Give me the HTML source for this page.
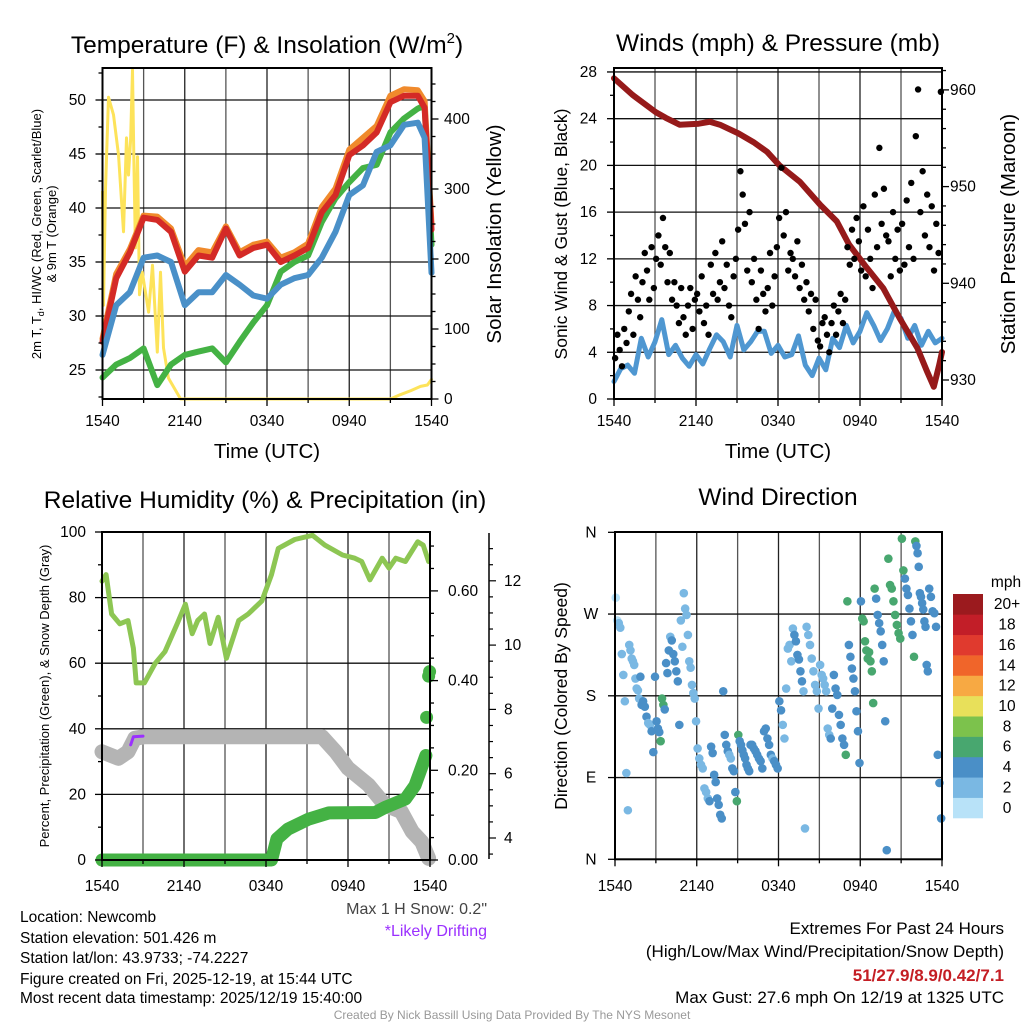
<!DOCTYPE html>
<html><head><meta charset="utf-8"><style>
html,body{margin:0;padding:0;background:#fff}
svg{display:block;font-family:"Liberation Sans",Arial,sans-serif}
</style></head><body>
<svg id="c" width="1024" height="1024" viewBox="0 0 1024 1024" xmlns="http://www.w3.org/2000/svg"></svg>
<script>
// ---------- DATA ----------
const xTickLabels = ["1540","2140","0340","0940","1540"];
const tempHours = [0,1,2,3,4,5,6,7,8,9,10,11,12,13,14,15,16,17,18,19,20,21,22,23,23.5,24];
const tempRed = [27.6,33.5,35.9,39.1,38.9,37.8,34.1,35.6,35.4,38.1,35.6,36.3,36.6,35.0,35.6,36.3,39.6,41.2,44.9,45.8,47.0,49.8,50.4,50.4,49.3,38.0];
const tempOrange = [27.9,33.9,36.2,39.3,39.2,38.1,34.6,36.1,35.9,38.3,35.9,36.6,36.9,35.4,35.9,36.7,40.1,41.8,45.4,46.5,47.6,50.4,51.0,50.9,49.9,38.5];
const tempBlue = [26.4,31.0,32.2,35.4,35.6,35.0,31.0,32.2,32.2,33.8,32.9,31.9,31.6,32.9,33.5,33.8,35.4,37.8,41.2,42.1,45.2,45.8,47.7,47.9,46.5,34.0];
const tempGreen = [24.3,25.5,26.1,27.0,23.6,25.5,26.4,26.7,27.0,25.7,27.6,29.4,31.0,34.1,35.0,35.6,38.7,40.9,42.4,43.7,44.0,47.0,48.3,49.2,49.5,36.6];
const tempTicks = [25,30,35,40,45,50];
const insHours = [0,0.07,0.22,0.44,0.8,1.17,1.53,1.75,1.9,2.05,2.19,2.3,2.4,2.55,2.7,2.9,3.36,3.65,4.0,4.23,4.45,4.81,5.7,21.0,21.7,22.5,23.2,23.7,24];
const insVals = [296,134,300,431,406,349,239,373,320,370,470,330,216,346,149,181,124,191,67,181,73,30,0,0,6,12,18,20,28];
const insTicks = [0,100,200,300,400];

const windVals = [1.5,2.6,2.9,2.2,5.2,3.6,4.9,6.8,3.8,4.6,3.5,2.8,3.8,3.0,4.3,5.5,4.9,3.6,6.3,4.2,4.9,5.8,5.8,3.9,4.6,3.6,3.8,5.4,2.9,2.0,3.5,2.5,5.2,4.4,6.3,4.8,5.8,7.4,6.3,5.0,6.0,7.5,6.9,5.2,6.3,4.6,5.8,4.8,5.2];
const gustVals = [3.5,5.5,4.2,2.8,6.0,4.8, 7.5,9.0,5.5,10.5,8.5,7.0, 10.0,12.5,11.0,8.5,13.0,9.5, 12.0,14.0,11.5,15.5,13.0,10.0,
 12.5,8.5,10.0,8.0,6.5,9.5, 7.0,5.5,8.0,9.5,6.0,8.5, 9.0,7.5,10.5,6.5,8.0,5.5, 11.5,9.0,12.5,8.5,10.0,13.5,
 9.5,11.5,8.0,7.0,10.5,12.0, 14.5,19.5,17.5,15.0,11.0,16.0, 10.0,12.0,8.5,6.0,11.0,9.0, 7.5,9.5,12.5,8.0,10.5,13.0,
 15.5,19.8,14.0,16.0,11.0,12.5, 12.0,10.5,13.5,9.5,11.5,8.5, 10.0,7.5,9.0,6.0,8.5,5.0, 4.5,6.5,7.0,5.5,4.0,6.5,
 8.0,5.5,7.5,9.0,6.5,8.5, 13.0,11.5,14.5,12.0,15.5,13.5, 11.0,16.5,10.5,14.5,12.0,9.5, 17.5,13.0,21.5,15.0,18.0,14.0,
 13.5,10.5,16.0,12.0,14.5,11.0, 15.0,11.5,17.0,13.0,18.5,12.0, 22.5,26.5,16.0,19.5,14.0,17.5, 13.0,16.5,11.0,15.0,12.5,26.3];
const presHours = [0,1.34,3.05,3.8,4.8,6.2,7.0,7.75,9.1,10.2,11.2,12.1,13.6,15.1,16.3,17.2,18.5,19.7,20.9,22.2,22.9,23.4,23.8,24];
const presVals = [961.2,959.5,957.7,957.1,956.4,956.5,956.7,956.4,955.5,954.6,953.6,952.2,950.5,948.1,946.4,944.0,941.6,939.5,936.4,933.3,930.9,929.3,931.6,932.9];
const windTicks = [0,4,8,12,16,20,24,28];
const presTicks = [930,940,950,960];

const rhHours = [0,0.3,0.7,1.3,1.9,2.3,2.5,3.1,3.9,4.6,5.5,6.1,6.6,7.0,7.5,7.9,8.5,9.1,10.0,10.7,11.7,12.4,12.9,14.1,15.4,16.3,17.6,18.5,19.0,19.6,20.5,21.0,21.5,22.2,23.1,23.5,23.9];
const rhVals = [85,87,75,72,73,64.5,54,54,60,63.5,72,78,69,73,75,66,74,61.5,73,75,79,87,95,97.7,99,96,93,92,91,85.4,92,89,92,91,97,96,91];
const precipHours = [0,12.4,12.8,13.6,15.1,16.6,20,20.7,22.2,22.9,23.7];
const precipVals = [0,0,0.047,0.069,0.091,0.105,0.106,0.117,0.136,0.166,0.233];
const precipDotHours = [23.75,23.9,23.97];
const precipDotVals = [0.318,0.41,0.42];
const snowHours = [0,1.2,1.9,2.4,3.1,16.1,17.1,18,19.5,20.7,21.9,22.7,23.4,23.9];
const snowVals = [6.68,6.48,6.68,7.1,7.15,7.15,6.68,6.17,5.65,5.03,4.82,4.2,3.88,3.37];
const driftHours = [2.1,2.3,3.0];
const driftVals = [6.9,7.15,7.17];
const rhTicks = [0,20,40,60,80,100];
const precipTicks = ["0.00","0.20","0.40","0.60"];
const snowTicks = [4,6,8,10,12];

const dirByHour = [
 [288,263,260,255,226,203,174,95,54],
 [236,230,221,218,214,199,188,186,177,201,170],
 [174,168,157,150,148,141,118,201],
 [152,144,140,130,177,170,165,216,205,230],
 [245,241,226,218,207,196,148,263,234],
 [293,276,269,247,218,211,192,183,177,152],
 [122,111,104,100,78,74,67,64],
 [124,117,93,85,67,60,49,45,185],
 [137,126,119,115,111,100,97,74,64],
 [137,130,126,120,115,111,104,100,97,126],
 [126,122,119,115,111,108,100,141],
 [144,133,126,115,111,108,104,100],
 [174,164,148,133,188,232,236,218],
 [254,247,240,225,220,207,196,185,34],
 [256,247,236,221,207,192,185,166],
 [214,203,199,192,185,144,137,133,166],
 [203,188,181,159,148,133,126,115],
 [284,236,223,210,199,185,163,141,106],
 [284,265,262,240,230,221,228,218,207,172],
 [298,287,269,260,251,236,218,152,10],
 [331,302,298,284,269,258,249,243],
 [353,318,309,298,291,276,262,247,223],
 [350,345,337,322,293,289,282,275,262,256,214,207],
 [298,289,273,271,256,115,84,45]
];
const dirTickLabels = ["N","E","S","W","N"];
const cbLabels = ["0","2","4","6","8","10","12","14","16","18","20+"];
const cbColors = ["#b8e2f8","#7ab8e3","#4a8fc7","#48a76f","#7cc24c","#e8e05a","#f7a943","#f0652a","#e03a2e","#c21e28","#9b1a1e"];

// ---------- HELPERS ----------
const NS="http://www.w3.org/2000/svg";
const svg=document.getElementById('c');
const TICK=15.5, TITLE=24.5, AXT=20.5;
function mk(tag,attrs,parent){const e=document.createElementNS(NS,tag);for(const k in attrs)e.setAttribute(k,attrs[k]);(parent||svg).appendChild(e);return e;}
function txt(s,x,y,size,anchor,parent,extra){const t=mk('text',Object.assign({x:x,y:y,'font-size':size,'text-anchor':anchor||'middle',fill:'#000'},extra||{}),parent);t.textContent=s;return t;}
function line(x1,y1,x2,y2,stroke,w,parent){return mk('line',{x1:x1,y1:y1,x2:x2,y2:y2,stroke:stroke,'stroke-width':w},parent);}
function poly(xs,ys,sx,sy,stroke,w,parent){let d='';for(let i=0;i<xs.length;i++)d+=(i?' ':'')+sx(xs[i]).toFixed(1)+','+sy(ys[i]).toFixed(1);return mk('polyline',{points:d,fill:'none',stroke:stroke,'stroke-width':w,'stroke-linejoin':'round','stroke-linecap':'round'},parent);}
function interp(hs,vs,h){if(h<=hs[0])return vs[0];for(let i=1;i<hs.length;i++){if(h<=hs[i]){const f=(h-hs[i-1])/(hs[i]-hs[i-1]);return vs[i-1]+f*(vs[i]-vs[i-1]);}}return vs[vs.length-1];}

function frame(g,x0,x1,y0,y1,yGrid,name){
  for(let k=1;k<8;k++){const x=x0+(x1-x0)*k/8;const l=line(x,y0,x,y1,k%2?'#555':'#222',1.3,g);}
  yGrid.forEach(y=>{const l=line(x0,y,x1,y,'#111',1.3,g);});
}
function border(g,x0,x1,y0,y1){
  const r=mk('rect',{x:x0,y:y0,width:x1-x0,height:y1-y0,fill:'none',stroke:'#000','stroke-width':2},g);
  
}
function xAxis(g,x0,x1,y1,labY){
  for(let k=0;k<=8;k++){const x=x0+(x1-x0)*k/8;line(x,y1,x,y1+(k%2?4:7),'#000',1.3,g);}
  xTickLabels.forEach((s,i)=>{const t=txt(s,x0+(x1-x0)*i/4,labY,TICK,'middle',g);});
}

// ---------- PANEL 1 ----------
(function(){
  const g=mk('g',{});
  const x0=102.5,x1=431.5,y0=68,y1=399;
  const X=h=>x0+(x1-x0)*h/24, YT=v=>370-(v-25)*10.8, YI=v=>399-v*0.7;
  frame(g,x0,x1,y0,y1,tempTicks.map(YT),'temp');
  const ins=poly(insHours,insVals,X,v=>Math.max(y0+1,YI(v)),'#fde35a',3,g);
  const lg=poly(tempHours,tempGreen,X,YT,'#44b244',6,g);
  const lo=poly(tempHours,tempOrange,X,YT,'#f08a2c',6,g);
  const lr=poly(tempHours,tempRed,X,YT,'#d42a26',6,g);
  const lb=poly(tempHours,tempBlue,X,YT,'#4a90c8',6,g);
  border(g,x0,x1,y0,y1);
  for(let v=22.5;v<=52.5;v+=2.5){const y=YT(v);if(y<y0||y>y1)continue;const maj=v%5===0;line(x0-(maj?7:4),y,x0,y,'#000',1.3,g);}
  tempTicks.forEach(v=>{const t=txt(String(v),86,YT(v)+5,TICK,'end',g);});
  for(let v=0;v<=475;v+=25){const y=YI(v);if(y<y0)continue;line(x1,y,x1+(v%100===0?7:4),y,'#000',1.3,g);}
  insTicks.forEach(v=>{const t=txt(String(v),444,YI(v)+5,TICK,'start',g);});
  xAxis(g,x0,x1,y1,426);
  const tt=txt('',267,53,TITLE,'middle',g);
  tt.innerHTML='Temperature (F) &amp; Insolation (W/m<tspan font-size="15" dy="-10">2</tspan><tspan dy="10">)</tspan>';
  const xl=txt('Time (UTC)',267,458,AXT,'middle',g);
  const yl=mk('text',{transform:'translate(41,234) rotate(-90)','font-size':13,'text-anchor':'middle'},g);
  
  yl.innerHTML='2m T, T<tspan font-size="9" dy="3">d</tspan><tspan dy="-3">, HI/WC (Red, Green, Scarlet/Blue)</tspan>';
  const yl2=txt('& 9m T (Orange)',0,0,13,'middle',g,{transform:'translate(56,234) rotate(-90)'});
  const yr=txt('Solar Insolation (Yellow)',0,0,AXT,'middle',g,{transform:'translate(501,234) rotate(-90)'});
})();

// ---------- PANEL 2 ----------
(function(){
  const g=mk('g',{});
  const x0=614,x1=942,y0=68,y1=399;
  const X=h=>x0+(x1-x0)*h/24, YW=v=>399-v*11.68, YP=p=>380-(p-930)*9.67;
  frame(g,x0,x1,y0,y1,windTicks.slice(1).map(YW),'wind');
  const wl=poly(windVals.map((v,i)=>i*24/(windVals.length-1)),windVals,X,YW,'#4f97d1',5,g);
  const pl=poly(presHours,presVals,X,YP,'#961a1a',6,g);
  gustVals.forEach((v,i)=>{const c=mk('circle',{cx:X(i/6+1/12),cy:YW(v),r:3.2,fill:'#000'},g);});
  border(g,x0,x1,y0,y1);
  for(let v=0;v<=28;v+=2){line(x0-(v%4?4:7),YW(v),x0,YW(v),'#000',1.3,g);}
  windTicks.forEach(v=>{const t=txt(String(v),597,YW(v)+5,TICK,'end',g);});
  for(let p=928;p<=962;p+=2){const y=YP(p);if(y<y0||y>y1)continue;line(x1,y,x1+(p%10?4:7),y,'#000',1.3,g);}
  presTicks.forEach(v=>{const t=txt(String(v),950,YP(v)+5,TICK,'start',g);});
  xAxis(g,x0,x1,y1,426);
  const tt=txt('Winds (mph) & Pressure (mb)',778,51,TITLE,'middle',g);
  const xl=txt('Time (UTC)',778,458,AXT,'middle',g);
  const yl=txt('Sonic Wind & Gust (Blue, Black)',0,0,17.5,'middle',g,{transform:'translate(567,234) rotate(-90)'});
  const yr=txt('Station Pressure (Maroon)',0,0,AXT,'middle',g,{transform:'translate(1015,234) rotate(-90)'});
})();

// ---------- PANEL 3 ----------
(function(){
  const g=mk('g',{});
  const x0=102,x1=430,y0=532,y1=860;
  const X=h=>x0+(x1-x0)*h/24, YR=v=>860-v*3.28, YPr=p=>860-p*448.5, YS=s=>838-(s-4)*32.15;
  frame(g,x0,x1,y0,y1,rhTicks.slice(1).map(YR),'rh');
  const rl=poly(rhHours,rhVals,X,YR,'#8dc653',5,g);
  const sl=poly(snowHours,snowVals,X,YS,'#b4b4b4',15,g);
  const dl=poly(driftHours,driftVals,X,YS,'#9b30ff',3,g);
  const pl=poly(precipHours,precipVals,X,YPr,'#44b244',13,g);
  precipDotHours.forEach((h,i)=>{const c=mk('circle',{cx:X(h),cy:YPr(precipDotVals[i]),r:6.5,fill:'#44b244'},g);});
  border(g,x0,x1,y0,y1);
  for(let v=0;v<=100;v+=10){line(x0-(v%20?4:7),YR(v),x0,YR(v),'#000',1.3,g);}
  rhTicks.forEach(v=>{const t=txt(String(v),86,YR(v)+5,TICK,'end',g);});
  for(let k=0;k<=14;k++){const p=k*0.05;const y=YPr(p);if(y<y0)continue;line(x1,y,x1+(k%4?4:8),y,'#000',1.3,g);}
  precipTicks.forEach(s=>{const t=txt(s,448,YPr(parseFloat(s))+5,TICK,'start',g);});
  const ax=line(489,533,489,859,'#000',1.5,g);
  for(let s=3.5;s<=13.5;s+=0.5){const y=YS(s);if(y<533||y>859)continue;line(489,y,489+(s%2===0?7:4),y,'#000',1.2,g);}
  snowTicks.forEach(v=>{const t=txt(String(v),504,YS(v)+5,TICK,'start',g);});
  xAxis(g,x0,x1,y1,891);
  const tt=txt('Relative Humidity (%) & Precipitation (in)',265,508,TITLE,'middle',g);
  const yl=txt('Percent, Precipitation (Green), & Snow Depth (Gray)',0,0,13,'middle',g,{transform:'translate(49,696) rotate(-90)'});
  const n1=txt('Max 1 H Snow: 0.2"',487,914,16,'end',g,{fill:'#444'});
  const n2=txt('*Likely Drifting',487,936,16,'end',g,{fill:'#9b30ff'});
})();

// ---------- PANEL 4 ----------
(function(){
  const g=mk('g',{});
  const x0=615,x1=942,y0=532,y1=859.3;
  const X=h=>x0+(x1-x0)*h/24, YD=d=>859.3-d*0.9083;
  frame(g,x0,x1,y0,y1,[90,180,270,360].map(YD),'dir');
  const wh=windVals.map((v,i)=>i*24/(windVals.length-1));
  dirByHour.forEach((arr,h)=>{arr.forEach((d,i)=>{const t=h+(i+0.5)/arr.length;const sp=interp(wh,windVals,t);const bin=Math.min(10,Math.max(0,Math.floor(sp/2)));
    const c=mk('circle',{cx:X(t),cy:YD(d),r:4.3,fill:cbColors[bin]},g);});});
  border(g,x0,x1,y0,y1);
  for(let k=0;k<=4;k++){line(x0-7,YD(k*90),x0,YD(k*90),'#000',1.3,g);}
  dirTickLabels.forEach((s,i)=>{const t=txt(s,591,YD(i*90)+5,TICK,'middle',g);});
  xAxis(g,x0,x1,y1,891);
  const tt=txt('Wind Direction',778,505,TITLE,'middle',g);
  const yl=txt('Direction (Colored By Speed)',0,0,17.5,'middle',g,{transform:'translate(567,696) rotate(-90)'});
  const cb=mk('g',{},g);
  const segH=(818-594)/cbColors.length;
  cbColors.forEach((col,i)=>{const y=818-(i+1)*segH;const r=mk('rect',{x:953,y:y,width:30,height:segH+0.3,fill:col},cb);
    const t=txt(cbLabels[i],1007,y+segH/2+5,TICK,'middle',cb);});
  const m=txt('mph',1006,587,TICK,'middle',cb);
})();

// ---------- FOOTER ----------
(function(){
  const g=mk('g',{});
  const lines=['Location: Newcomb','Station elevation: 501.426 m','Station lat/lon: 43.9733; -74.2227','Figure created on Fri, 2025-12-19, at 15:44 UTC','Most recent data timestamp: 2025/12/19 15:40:00'];
  const ys=[922,943,963,984,1003];
  lines.forEach((s,i)=>{const t=txt(s,20,ys[i],15.5,'start',g);});
  const e1=txt('Extremes For Past 24 Hours',1004,934,17,'end',g);
  const e2=txt('(High/Low/Max Wind/Precipitation/Snow Depth)',1004,957,17,'end',g);
  const e3=txt('51/27.9/8.9/0.42/7.1',1004,981,17,'end',g,{fill:'#c41e24','font-weight':'bold'});
  const e4=txt('Max Gust: 27.6 mph On 12/19 at 1325 UTC',1004,1003,17,'end',g);
  const cr=txt('Created By Nick Bassill Using Data Provided By The NYS Mesonet',512,1019,12,'middle',g,{fill:'#999'});
})();
</script>
</body></html>
